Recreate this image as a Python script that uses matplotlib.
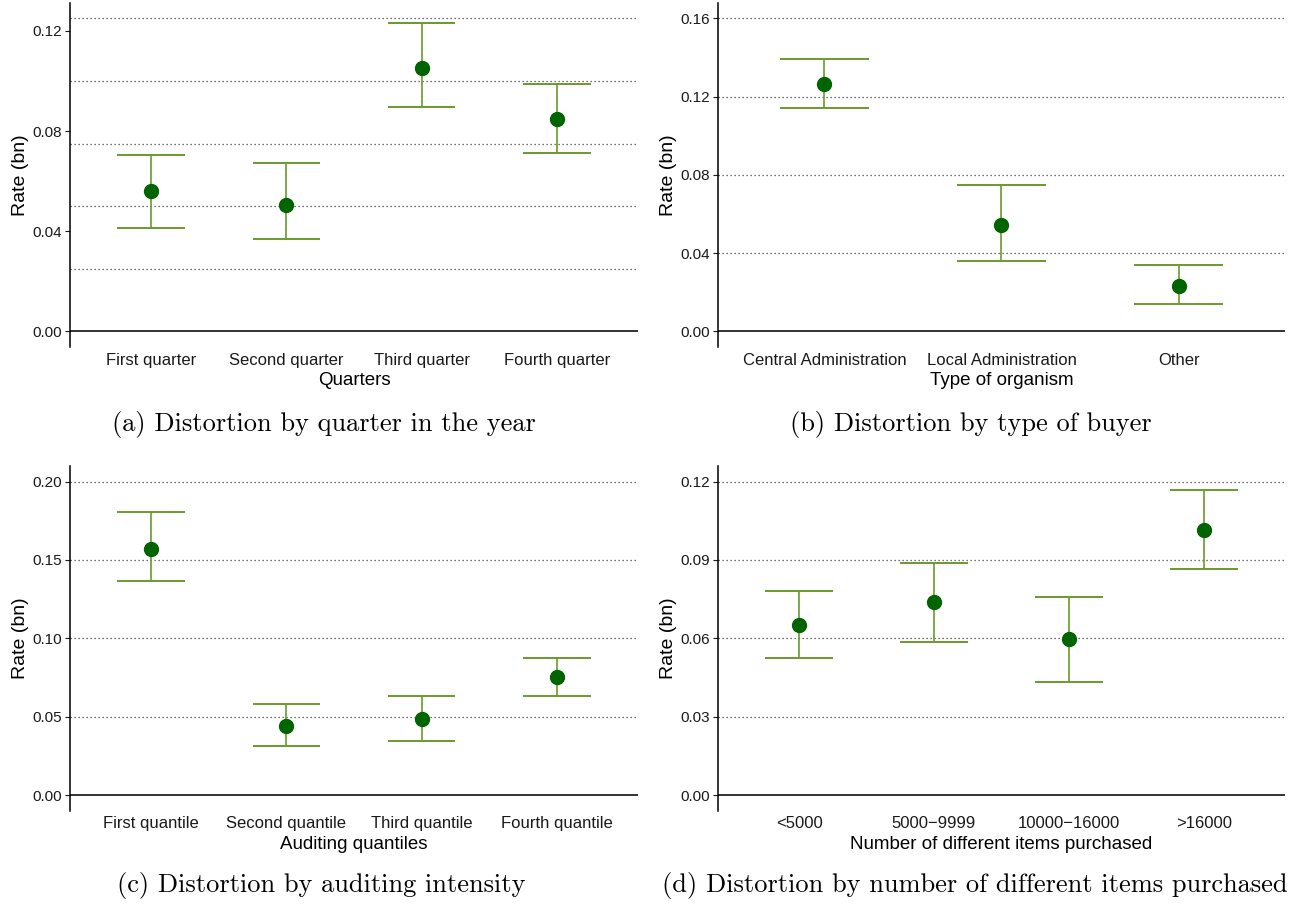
import numpy as np
import matplotlib
matplotlib.use('Agg')
import matplotlib.pyplot as plt

plt.rcParams['font.family'] = ['Liberation Sans', 'DejaVu Sans']

# (a) quarter in the year
quarter_labels = ['First quarter', 'Second quarter', 'Third quarter', 'Fourth quarter']
quarter_rate = [0.0562, 0.0506, 0.1053, 0.0849]
quarter_low = [0.0411, 0.0367, 0.0897, 0.0714]
quarter_high = [0.0706, 0.0674, 0.1232, 0.0989]
quarter_ticks = [0.00, 0.04, 0.08, 0.12]
quarter_grid = [0.025, 0.05, 0.075, 0.10, 0.125]

# (b) type of buyer
buyer_labels = ['Central Administration', 'Local Administration', 'Other']
buyer_rate = [0.1264, 0.0545, 0.0234]
buyer_low = [0.1141, 0.0357, 0.0138]
buyer_high = [0.1391, 0.0749, 0.0341]
buyer_ticks = [0.00, 0.04, 0.08, 0.12, 0.16]
buyer_grid = [0.04, 0.08, 0.12, 0.16]

# (c) auditing intensity
audit_labels = ['First quantile', 'Second quantile', 'Third quantile', 'Fourth quantile']
audit_rate = [0.1567, 0.0439, 0.0484, 0.0752]
audit_low = [0.1363, 0.0312, 0.0344, 0.0631]
audit_high = [0.1809, 0.0580, 0.0631, 0.0873]
audit_ticks = [0.00, 0.05, 0.10, 0.15, 0.20]
audit_grid = [0.05, 0.10, 0.15, 0.20]

# (d) number of different items purchased
items_labels = ['<5000', '5000\u22129999', '10000\u221216000', '>16000']
items_rate = [0.0650, 0.0741, 0.0596, 0.1016]
items_low = [0.0523, 0.0585, 0.0432, 0.0864]
items_high = [0.0783, 0.0887, 0.0757, 0.1169]
items_ticks = [0.00, 0.03, 0.06, 0.09, 0.12]
items_grid = [0.03, 0.06, 0.09, 0.12]

bar_color = '#6a9a2c'
dot_color = '#006400'


def draw_panel(ax, labels, rate, low, high, ticks, grid, xlabel):
    x = np.arange(1, len(labels) + 1)
    for g in grid:
        ax.axhline(g, color='#444444', lw=0.9, ls=(0, (1, 2.2)), zorder=1)
    ax.axhline(0, color='#222222', lw=1.3, zorder=1)
    ax.vlines(x, low, high, color=bar_color, lw=1.2, zorder=2)
    ax.hlines(low, x - 0.25, x + 0.25, color=bar_color, lw=1.4, zorder=2)
    ax.hlines(high, x - 0.25, x + 0.25, color=bar_color, lw=1.4, zorder=2)
    ax.plot(x, rate, 'o', color=dot_color, ms=10, zorder=3)

    top = max(max(high), max(grid))
    ax.set_ylim(-0.05 * top, 1.05 * top)
    ax.set_xlim(0.4, len(labels) + 0.6)
    ax.set_yticks(ticks)
    ax.set_yticklabels(['%.2f' % t for t in ticks])
    ax.set_xticks(x)
    ax.set_xticklabels(labels)
    ax.tick_params(axis='x', length=0, pad=4, labelsize=12, colors='#1a1a1a')
    ax.tick_params(axis='y', length=3.5, width=0.8, pad=2, labelsize=11, colors='#1a1a1a')
    for s in ['top', 'right', 'bottom']:
        ax.spines[s].set_visible(False)
    ax.spines['left'].set_linewidth(1.1)
    ax.set_xlabel(xlabel, fontsize=13.5, labelpad=3.5)
    ax.set_ylabel('Rate (bn)', fontsize=14, labelpad=2.5)


fig = plt.figure(figsize=(12.94, 9.05), dpi=100)

ax_a = fig.add_axes([0.0541, 0.6166, 0.4389, 0.3804])
ax_b = fig.add_axes([0.5549, 0.6166, 0.4381, 0.3804])
ax_c = fig.add_axes([0.0541, 0.1042, 0.4389, 0.3809])
ax_d = fig.add_axes([0.5549, 0.1042, 0.4381, 0.3809])

draw_panel(ax_a, quarter_labels, quarter_rate, quarter_low, quarter_high,
           quarter_ticks, quarter_grid, 'Quarters')
draw_panel(ax_b, buyer_labels, buyer_rate, buyer_low, buyer_high,
           buyer_ticks, buyer_grid, 'Type of organism')
draw_panel(ax_c, audit_labels, audit_rate, audit_low, audit_high,
           audit_ticks, audit_grid, 'Auditing quantiles')
draw_panel(ax_d, items_labels, items_rate, items_low, items_high,
           items_ticks, items_grid, 'Number of different items purchased')

# captions under each panel
cap_font = dict(family='cmr10', fontsize=19, ha='center', va='center')
fig.text(0.25, 1 - 424 / 905, '(a) Distortion by quarter in the year', **cap_font)
fig.text(0.75, 1 - 424 / 905, '(b) Distortion by type of buyer', **cap_font)
fig.text(0.248, 1 - 885 / 905, '(c) Distortion by auditing intensity', **cap_font)
fig.text(0.753, 1 - 885 / 905, '(d) Distortion by number of different items purchased', **cap_font)

fig.savefig('out.png', dpi=100)
